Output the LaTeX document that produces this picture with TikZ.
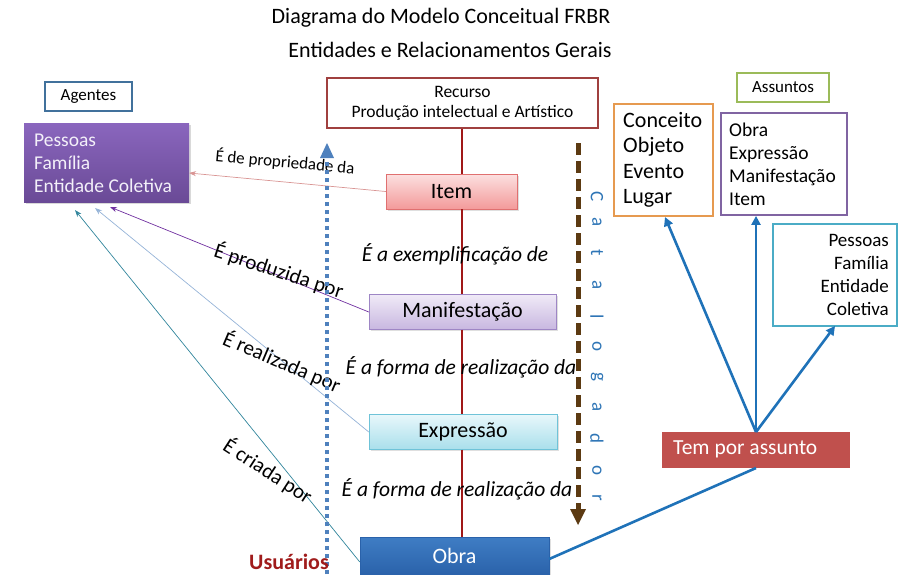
\documentclass[tikz,border=0pt]{standalone}
\usepackage{fontspec}
\setmainfont{Carlito}
\usetikzlibrary{arrows.meta,shadows}
\definecolor{agblue}{HTML}{41719C}
\definecolor{purpA}{HTML}{8A66BE}
\definecolor{purpB}{HTML}{6A4A96}
\definecolor{recred}{HTML}{A0403F}
\definecolor{vline}{HTML}{A01818}
\definecolor{itemA}{HTML}{FCE0E0}
\definecolor{itemB}{HTML}{F39A9A}
\definecolor{itemD}{HTML}{E07070}
\definecolor{manA}{HTML}{F0EAF7}
\definecolor{manB}{HTML}{C8B7E0}
\definecolor{manD}{HTML}{9E86C5}
\definecolor{expA}{HTML}{E8F7FB}
\definecolor{expB}{HTML}{A9DFEB}
\definecolor{expD}{HTML}{6FC3D8}
\definecolor{obraA}{HTML}{3F7DC4}
\definecolor{obraB}{HTML}{2A62AA}
\definecolor{dotblue}{HTML}{4F81BD}
\definecolor{brownd}{HTML}{5C3A12}
\definecolor{catblue}{HTML}{2E75B6}
\definecolor{orangeb}{HTML}{E69A50}
\definecolor{greenb}{HTML}{9BBB59}
\definecolor{purpb}{HTML}{8064A2}
\definecolor{tealb}{HTML}{4BACC6}
\definecolor{temred}{HTML}{C0504D}
\definecolor{arrblue}{HTML}{1F72B8}
\definecolor{usured}{HTML}{A01C1C}
\definecolor{pinkarr}{HTML}{D99594}
\definecolor{purparr}{HTML}{7030A0}
\definecolor{ltbarr}{HTML}{95B3D7}
\definecolor{tealarr}{HTML}{31859C}
\tikzset{
  x=1pt,y=-1pt,
  lbl/.style={font=\fontsize{22}{22}\selectfont, inner sep=0pt},
  ent/.style={minimum height=35pt, inner sep=0pt, font=\fontsize{22}{22}\selectfont,
    drop shadow={shadow xshift=1.5pt, shadow yshift=-1.5pt, opacity=0.25}},
  thinarr/.style={line width=0.7pt, -{Stealth[length=7pt,width=5pt]}},
  bluearr/.style={arrblue, line width=2.6pt, -{Triangle[length=9pt,width=9pt]}},
  rel/.style={font=\fontsize{21.5}{21.5}\selectfont\itshape, inner sep=0pt},
  side/.style={font=\fontsize{21}{21}\selectfont, inner sep=0pt},
  catl/.style={font=\fontsize{19}{19}\selectfont, text=catblue, rotate=-90, inner sep=0pt},
}
\begin{document}
\begin{tikzpicture}
\useasboundingbox (0,0) rectangle (899,574);
% titles
\node[lbl] (t1) at (441,18) {Diagrama do Modelo Conceitual FRBR};
\node[lbl] (t2) at (450,50) {Entidades e Relacionamentos Gerais};
% agentes
\node[draw=agblue, line width=1.4pt, minimum width=87pt, minimum height=29pt, font=\fontsize{17}{17}\selectfont, inner sep=0pt] (ag) at (88.5,96.5) {Agentes};
\node[top color=purpA, bottom color=purpB, minimum width=165pt, minimum height=79pt, inner sep=0pt,
  drop shadow={shadow xshift=1.5pt, shadow yshift=-1.5pt, opacity=0.3}] (agent) at (106.5,162.5) {};
\node[anchor=west, text=white!90!purpA, align=left, font=\fontsize{19.5}{23}\selectfont, inner sep=0pt] (agtxt) at (34,163) {Pessoas\\Família\\Entidade Coletiva};
% recurso
\node[draw=recred, line width=1.6pt, fill=white, minimum width=271pt, minimum height=50pt, align=center, font=\fontsize{17.5}{20}\selectfont, inner sep=0pt] (rec) at (462.5,103) {Recurso\\Produção intelectual e Artístico};
% entities
\node[ent, top color=itemA, bottom color=itemB, draw=itemD, minimum width=131pt] (item) at (451.5,191.5) {Item};
\node[ent, top color=manA, bottom color=manB, draw=manD, minimum width=187pt] (man) at (462.5,312) {Manifestação};
\node[ent, top color=expA, bottom color=expB, draw=expD, minimum width=188pt] (exp) at (463,432) {Expressão};
\node[ent, top color=obraA, bottom color=obraB, draw=obraB, text=white, minimum width=189pt, minimum height=38pt] (obra) at (454.5,556) {Obra};
% vertical red line
\draw[vline, line width=2pt] (rec.south -| 462,0) -- (item.north -| 462,0);
\draw[vline, line width=2pt] (item.south -| 462,0) -- (man.north -| 462,0);
\draw[vline, line width=2pt] (man.south -| 462,0) -- (exp.north -| 462,0);
\draw[vline, line width=2pt] (exp.south -| 462,0) -- (obra.north -| 462,0);
% relation labels along the line
\node[rel] (r1) at (455,254) {É a exemplificação de};
\node[rel] (r2) at (461,367) {É a forma de realização da};
\node[rel] (r3) at (457,489) {É a forma de realização da};
% arrows to agents
\coordinate (a1) at (189,173);
\coordinate (a2) at (110,207);
\coordinate (a3) at (95,208);
\coordinate (a4) at (75,210);
\draw[thinarr, pinkarr] (item.west) -- (a1);
\draw[thinarr, purparr] (man.west) -- (a2);
\draw[thinarr, ltbarr] (exp.west) -- (a3);
\draw[thinarr, tealarr] ([yshift=-6pt]obra.west) -- (a4);
\node[side, font=\fontsize{17}{17}\selectfont, rotate=-5] (s1) at (285,162) {É de propriedade da};
\node[side, rotate=-18] (s2) at (279,271) {É produzida por};
\node[side, rotate=-23] (s3) at (282,362) {É realizada por};
\node[side, rotate=-33] (s4) at (268,471) {É criada por};
% usuarios dotted arrow
\coordinate (u0) at (327,574);
\coordinate (u1) at (327,143);
\draw[dotblue, line width=4.5pt, dash pattern=on 4pt off 4pt] (u0) -- ([yshift=-14pt]u1);
\fill[dotblue] (u1) -- ++(-7,15) -- ++(14,0) -- cycle;
\node[font=\fontsize{22}{22}\selectfont\bfseries, text=usured, inner sep=0pt] (usu) at (289,562) {Usuários};
% catalogador dashed arrow
\coordinate (c0) at (578,143);
\coordinate (c1) at (578,525);
\draw[brownd, line width=5pt, dash pattern=on 12pt off 6pt] (c0) -- ([yshift=14pt]c1);
\fill[brownd] (c1) -- ++(-8,-16) -- ++(16,0) -- cycle;
\foreach \l/\yy in {C/197,a/222,t/253,a/285,l/317,o/347,g/377,a/407,d/438,o/470,r/498}{
  \node[catl] at (597,\yy) {\l};
}
% assuntos side
\node[draw=greenb, line width=1.4pt, minimum width=92pt, minimum height=29pt, font=\fontsize{17}{17}\selectfont, inner sep=0pt] (ass) at (783,87.5) {Assuntos};
\node[draw=orangeb, line width=1.8pt, minimum width=99pt, minimum height=112pt] (conc) at (663.5,160) {};
\node[anchor=west, align=left, font=\fontsize{22}{25.5}\selectfont, inner sep=0pt] (conctxt) at (623,160) {Conceito\\Objeto\\Evento\\Lugar};
\node[draw=purpb, line width=1.8pt, minimum width=126pt, minimum height=102pt] (oemi) at (784,164) {};
\node[anchor=west, align=left, font=\fontsize{19.5}{23}\selectfont, inner sep=0pt] (oemitxt) at (729,164) {Obra\\Expressão\\Manifestação\\Item};
\node[draw=tealb, line width=1.8pt, minimum width=124pt, minimum height=102pt] (pfe) at (835,275) {};
\node[anchor=east, align=right, font=\fontsize{19}{23}\selectfont, inner sep=0pt] (pfetxt) at (889,275) {Pessoas\\Família\\Entidade\\Coletiva};
\node[fill=temred, draw=white, line width=1pt, minimum width=189pt, minimum height=37pt, inner sep=0pt,
  drop shadow={shadow xshift=1pt, shadow yshift=-1pt, opacity=0.25}] (tem) at (755.5,449.5) {};
\node[anchor=west, text=white, font=\fontsize{21.5}{21.5}\selectfont, inner sep=0pt] (temtxt) at (673,449) {Tem por assunto};
\coordinate (apex) at (756,432);
\coordinate (tb) at (756,468);
\draw[bluearr] (apex) -- (665,217) coordinate (e1);
\draw[bluearr] (apex) -- (oemi.south -| apex);
\draw[bluearr] (apex) -- (835,326) coordinate (e3);
\draw[arrblue, line width=2.6pt] ([yshift=-3pt]obra.east) -- (tb);
\end{tikzpicture}
\end{document}
